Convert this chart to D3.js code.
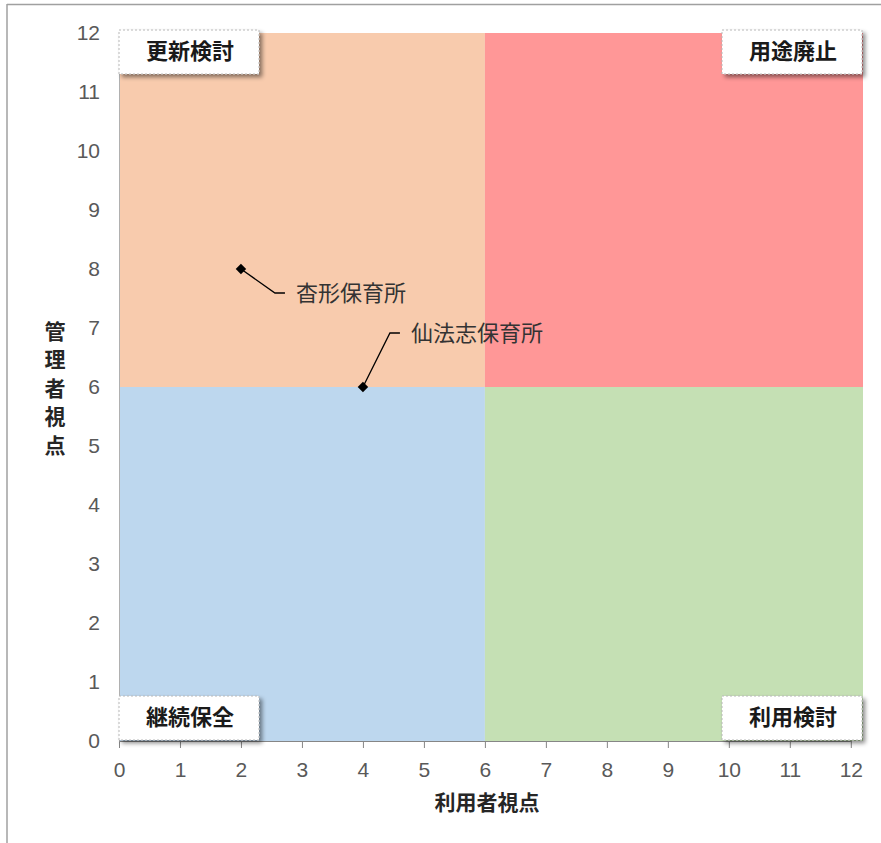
<!DOCTYPE html>
<html><head><meta charset="utf-8">
<script src="https://cdn.jsdelivr.net/npm/d3@7"></script>
<style>
body{margin:0;background:#fff;}
svg{display:block;}
</style></head>
<body>
<svg id="chart" width="881" height="843"></svg>
<script>
// ---- data ----
const xTicks = [0,1,2,3,4,5,6,7,8,9,10,11,12];
const yTicks = [0,1,2,3,4,5,6,7,8,9,10,11,12];
const xTitle = "利用者視点";
const yTitle = "管理者視点";
const pointNames = ["杳形保育所","仙法志保育所"];
const pointX = [2,4];
const pointY = [8,6];
const quadNames = ["更新検討","用途廃止","継続保全","利用検討"];
const quadX0 = [0,6,0,6];
const quadX1 = [6,12.2,6,12.2];
const quadY0 = [6,6,0,0];
const quadY1 = [12,12,6,6];
const quadColors = ["#F8CBAD","#FF9797","#BDD7EE","#C5E0B4"];

(function(){
const svg = d3.select("#chart");
const W = 881, H = 843;
const mLeft = 119, mRight = 863, mTop = 33, mBottom = 741;
const x = d3.scaleLinear().domain([0,12.2]).range([mLeft,mRight]);
const y = d3.scaleLinear().domain([0,12]).range([mBottom,mTop]);
const numFont = "'Liberation Sans Narrow', 'Arial Narrow', 'Liberation Sans', sans-serif";
const cjkFont = "'Noto Sans CJK JP', sans-serif";

// outer frame lines
svg.append("line").attr("x1",7).attr("x2",W).attr("y1",4.5).attr("y2",4.5).attr("stroke","#a0a0a0").attr("stroke-width",1.5);
svg.append("line").attr("x1",7).attr("x2",7).attr("y1",4).attr("y2",H).attr("stroke","#a0a0a0").attr("stroke-width",1.5);

const defs = svg.append("defs");
const f = defs.append("filter").attr("id","sh").attr("x","-20%").attr("y","-30%").attr("width","150%").attr("height","170%");
f.append("feDropShadow").attr("dx",3).attr("dy",3).attr("stdDeviation",2.2).attr("flood-color","#000").attr("flood-opacity",0.45);

// quadrants
const quads = quadNames.map((n,i)=>({n, x0:quadX0[i], x1:quadX1[i], y0:quadY0[i], y1:quadY1[i], c:quadColors[i]}));
svg.append("g").selectAll("rect").data(quads).join("rect")
  .attr("x",d=>x(d.x0)).attr("y",d=>y(d.y1))
  .attr("width",d=>x(d.x1)-x(d.x0)).attr("height",d=>y(d.y0)-y(d.y1))
  .attr("fill",d=>d.c);

// axes
const xAxis = svg.append("g").attr("transform",`translate(0,${mBottom})`)
  .call(d3.axisBottom(x).tickValues(xTicks).tickSize(7).tickPadding(14).tickFormat(d3.format("d")));
xAxis.select(".domain").attr("stroke","#868686").attr("d",`M${x(0)},0.5H${x(12)}`);
xAxis.selectAll(".tick line").attr("stroke","#868686");
xAxis.selectAll("text").attr("fill","#595959").attr("font-size","21px").attr("font-family",numFont);

const yAxis = svg.append("g").attr("transform",`translate(${mLeft},0)`)
  .call(d3.axisLeft(y).tickValues(yTicks).tickSize(0).tickPadding(19).tickFormat(d3.format("d")));
yAxis.select(".domain").attr("stroke","#b0b0b0");
yAxis.selectAll("text").attr("fill","#595959").attr("font-size","21px").attr("font-family",numFont);

// quadrant label boxes
const boxW = 140, boxH = 44;
quads.forEach((q,i)=>{
  const isLeft = q.x0===0;
  const isTop = q.y1===12;
  const bx = isLeft ? x(0) : x(q.x1)-boxW-1;
  const by = isTop ? y(12)-3 : y(0)-boxH-1;
  const g = svg.append("g");
  g.append("rect").attr("x",bx).attr("y",by).attr("width",boxW).attr("height",boxH)
    .attr("fill","#fff").attr("stroke","#b8b8b8").attr("stroke-dasharray","2,2").attr("stroke-width",1)
    .attr("filter","url(#sh)");
  g.append("text").attr("x",bx+boxW/2+1).attr("y",by+boxH/2+1).attr("text-anchor","middle")
    .attr("dominant-baseline","middle").attr("font-size","22px").attr("font-weight","bold")
    .attr("fill","#1a1a1a").attr("font-family",cjkFont).text(q.n);
});

// axis titles
svg.append("text").attr("x",x(6)+2).attr("y",804).attr("text-anchor","middle").attr("dominant-baseline","middle")
  .attr("font-size","21px").attr("font-weight","bold").attr("fill","#262626")
  .attr("font-family",cjkFont).text(xTitle);
const yt = svg.append("text").attr("text-anchor","middle").attr("font-size","21px").attr("font-weight","bold")
  .attr("fill","#262626").attr("font-family",cjkFont);
yTitle.split("").forEach((ch,i)=>{
  yt.append("tspan").attr("x",55).attr("y",333+i*28.5).attr("dominant-baseline","middle").text(ch);
});

// points & leaders
const pts = pointNames.map((n,i)=>({n, x:pointX[i], y:pointY[i]}));
const leaderDx = [34, 27];
const leaderDy = [24, -54];
pts.forEach((p,i)=>{
  const px = x(p.x), py = y(p.y);
  const lx = px+leaderDx[i], ly = py+leaderDy[i];
  svg.append("path").attr("d",`M${px},${py}L${lx},${ly}H${lx+10}`)
    .attr("fill","none").attr("stroke","#000").attr("stroke-width",1.3);
  svg.append("text").attr("x",lx+21).attr("y",ly+2).attr("dominant-baseline","middle")
    .attr("font-size","22px").attr("fill","#333").attr("font-family",cjkFont).text(p.n);
});
svg.append("g").selectAll("path").data(pts).join("path")
  .attr("d",d3.symbol(d3.symbolDiamond2,70))
  .attr("transform",d=>`translate(${x(d.x)},${y(d.y)})`).attr("fill","#000");
})();
</script>
</body></html>
